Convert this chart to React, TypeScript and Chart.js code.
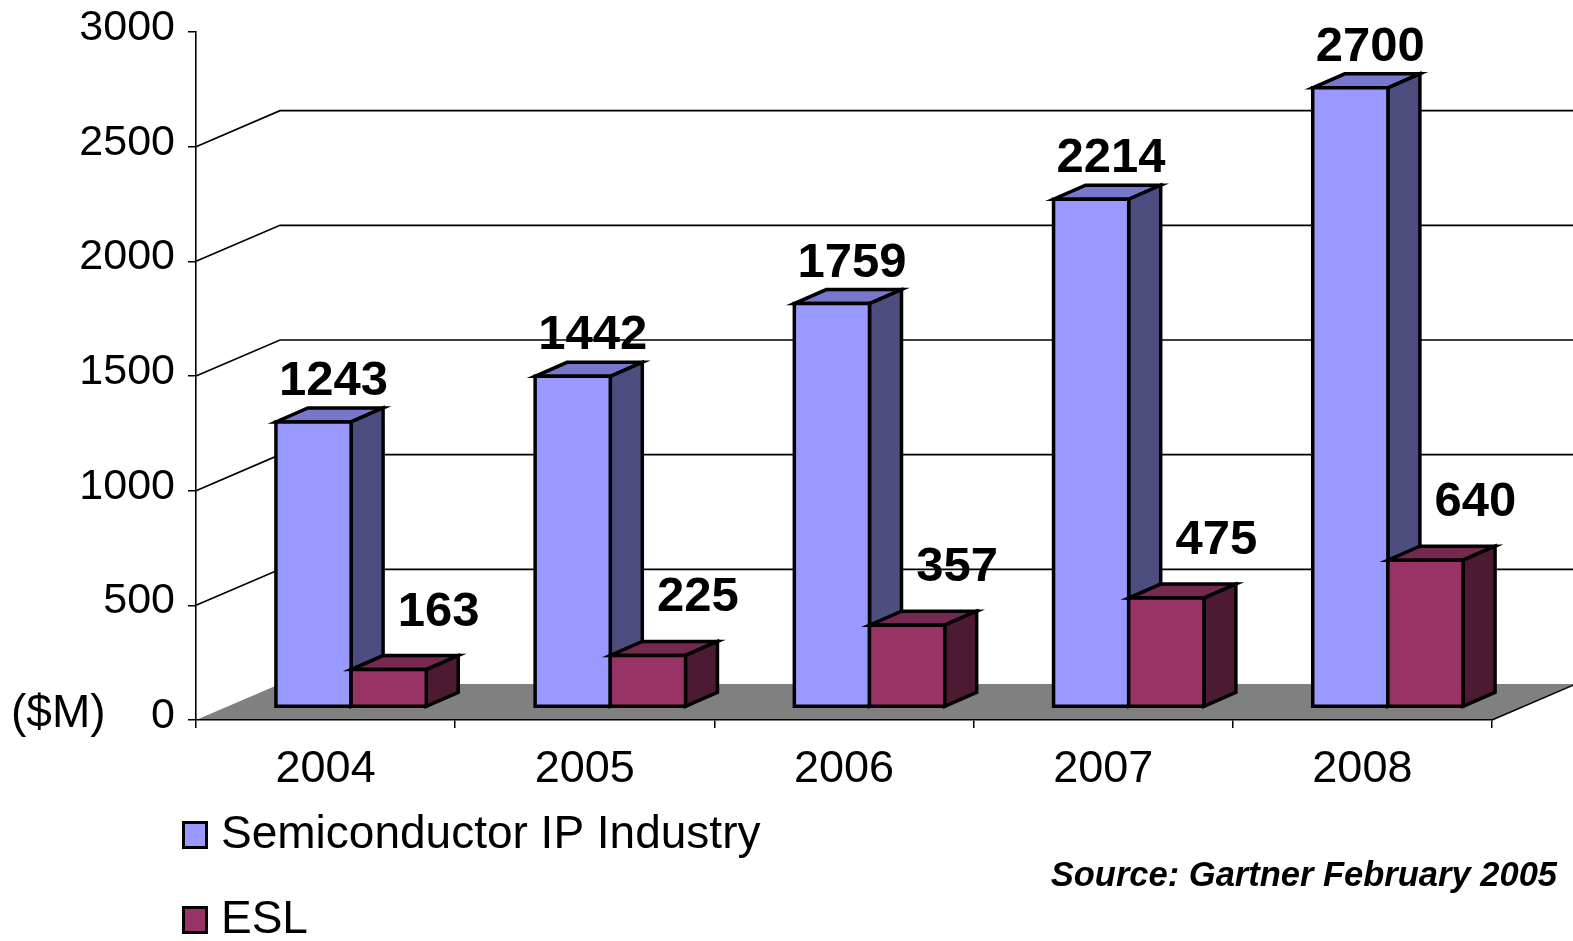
import React, { useEffect, useRef } from 'react';
import { Chart, registerables } from 'chart.js';

Chart.register(...registerables);

// ---------------- data ----------------
const years = ['2004', '2005', '2006', '2007', '2008'];
const ipIndustry = [1243, 1442, 1759, 2214, 2700];
const esl = [163, 225, 357, 475, 640];
const seriesNames = ['Semiconductor IP Industry', 'ESL'];
const yMin = 0;
const yMax = 3000;
const yStep = 500;
const unitLabel = '($M)';
const sourceText = 'Source: Gartner February 2005';

// ---------------- style ----------------
const FONT = '"Liberation Sans", Arial, Helvetica, sans-serif';
const FRONT = ['#9999FF', '#993366'];
const SIDE = ['#4D4D80', '#4D1A33'];
const TOP = ['#7777CC', '#752850'];
const FLOOR = '#808080';

const W = 1573;
const H = 941;
const WALL_DX = 84;
const WALL_DY = -36;
const BAR_DX = 25.5;
const BAR_DY = -13;
const DEPTH_DX = 32;
const DEPTH_DY = -14;
const LABEL_OFF = [
  { dx: 20, dy: 27 },
  { dx: 50, dy: 44 },
];

const threeDPlugin = {
  id: 'threeD',
  beforeDraw(chart: any) {
    const { ctx, chartArea } = chart;
    const { left, right, bottom } = chartArea;
    const ys = chart.scales.y;
    ctx.save();
    // floor
    ctx.fillStyle = FLOOR;
    ctx.beginPath();
    ctx.moveTo(left, bottom);
    ctx.lineTo(right, bottom);
    ctx.lineTo(right + WALL_DX, bottom + WALL_DY);
    ctx.lineTo(left + WALL_DX, bottom + WALL_DY);
    ctx.closePath();
    ctx.fill();
    ctx.strokeStyle = '#000';
    ctx.lineWidth = 1.4;
    ctx.beginPath();
    ctx.moveTo(right, bottom);
    ctx.lineTo(right + WALL_DX, bottom + WALL_DY);
    ctx.stroke();
    // side + back wall gridlines
    ctx.lineWidth = 1.7;
    ys.ticks.forEach((t: any) => {
      if (t.value === yMin || t.value === yMax) return;
      const y = ys.getPixelForValue(t.value);
      ctx.beginPath();
      ctx.moveTo(left, y);
      ctx.lineTo(left + WALL_DX, y + WALL_DY);
      ctx.lineTo(right + WALL_DX + 20, y + WALL_DY);
      ctx.stroke();
    });
    ctx.restore();
  },
  beforeDatasetsDraw(chart: any) {
    const { ctx } = chart;
    const nSets = chart.data.datasets.length;
    const nCats = chart.data.labels.length;
    ctx.save();
    ctx.lineJoin = 'miter';
    ctx.lineWidth = 3.5;
    ctx.strokeStyle = '#000';
    const poly = (pts: number[][], fill: string) => {
      ctx.beginPath();
      ctx.moveTo(pts[0][0], pts[0][1]);
      for (let k = 1; k < pts.length; k++) ctx.lineTo(pts[k][0], pts[k][1]);
      ctx.closePath();
      ctx.fillStyle = fill;
      ctx.fill();
      ctx.stroke();
    };
    const labels: any[] = [];
    for (let j = 0; j < nCats; j++) {
      for (let i = 0; i < nSets; i++) {
        const el = chart.getDatasetMeta(i).data[j];
        const p = el.getProps(['x', 'y', 'base', 'width'], true);
        const l = p.x - p.width / 2 + BAR_DX;
        const r = p.x + p.width / 2 + BAR_DX;
        const t = p.y + BAR_DY;
        const b = p.base + BAR_DY;
        poly(
          [
            [l, t],
            [r, t],
            [r + DEPTH_DX, t + DEPTH_DY],
            [l + DEPTH_DX, t + DEPTH_DY],
          ],
          TOP[i]
        );
        poly(
          [
            [r, t],
            [r + DEPTH_DX, t + DEPTH_DY],
            [r + DEPTH_DX, b + DEPTH_DY],
            [r, b],
          ],
          SIDE[i]
        );
        poly(
          [
            [l, t],
            [r, t],
            [r, b],
            [l, b],
          ],
          FRONT[i]
        );
        labels.push({
          text: String(chart.data.datasets[i].data[j]),
          x: (l + r) / 2 + LABEL_OFF[i].dx,
          y: t - LABEL_OFF[i].dy,
        });
      }
    }
    ctx.fillStyle = '#000';
    ctx.font = `bold 49px ${FONT}`;
    ctx.textAlign = 'center';
    ctx.textBaseline = 'alphabetic';
    labels.forEach((lb) => ctx.fillText(lb.text, lb.x, lb.y));
    ctx.restore();
    return false;
  },
  afterDraw(chart: any) {
    const { ctx } = chart;
    ctx.save();
    ctx.fillStyle = '#000';
    ctx.textBaseline = 'alphabetic';
    ctx.textAlign = 'left';
    ctx.font = `46px ${FONT}`;
    ctx.fillText(unitLabel, 11, 727);
    ctx.font = `46px ${FONT}`;
    const baselines = [848, 933];
    chart.data.datasets.forEach((ds: any, i: number) => {
      const yb = baselines[i];
      ctx.fillStyle = FRONT[i];
      ctx.fillRect(182, yb - 27, 26, 28);
      ctx.strokeStyle = '#000';
      ctx.lineWidth = 3;
      ctx.strokeRect(183.5, yb - 25.5, 23, 25);
      ctx.fillStyle = '#000';
      ctx.fillText(ds.label, 221, yb);
    });
    ctx.font = `italic bold 34.5px ${FONT}`;
    ctx.textAlign = 'right';
    ctx.fillText(sourceText, 1557, 886);
    ctx.restore();
  },
};

export default function App() {
  const ref = useRef<HTMLCanvasElement | null>(null);
  useEffect(() => {
    document.body.style.margin = '0';
    const canvas = ref.current;
    if (!canvas) return;
    const chart = new Chart(canvas, {
      type: 'bar',
      data: {
        labels: years,
        datasets: [
          { label: seriesNames[0], data: ipIndustry, backgroundColor: FRONT[0] },
          { label: seriesNames[1], data: esl, backgroundColor: FRONT[1] },
        ],
      },
      options: {
        animation: false,
        responsive: false,
        devicePixelRatio: 1,
        layout: { padding: { left: 0, right: W - 1492, top: 32, bottom: 0 } },
        datasets: { bar: { categoryPercentage: 0.58, barPercentage: 1 } } as any,
        plugins: { legend: { display: false }, tooltip: { enabled: false } },
        scales: {
          x: {
            offset: true,
            grid: {
              offset: true,
              drawOnChartArea: false,
              drawTicks: true,
              tickLength: 8,
              color: '#000',
              lineWidth: 1.5,
            },
            border: { display: true, color: '#000', width: 1.6 },
            ticks: { color: '#000', font: { family: FONT, size: 45 }, padding: 15 },
            afterFit: (s: any) => {
              s.height = H - 720;
              s.paddingLeft = 0;
              s.paddingRight = 0;
            },
          },
          y: {
            min: yMin,
            max: yMax,
            grid: {
              drawOnChartArea: false,
              drawTicks: true,
              tickLength: 8,
              color: '#000',
              lineWidth: 1.5,
            },
            border: { display: true, color: '#000', width: 1.6 },
            ticks: {
              stepSize: yStep,
              color: '#000',
              font: { family: FONT, size: 43 },
              padding: 13,
              labelOffset: -4,
              callback: (v: any) => String(v),
            },
            afterFit: (s: any) => {
              s.width = 196;
              s.paddingTop = 0;
              s.paddingBottom = 0;
            },
          },
        },
      },
      plugins: [threeDPlugin],
    });
    return () => chart.destroy();
  }, []);
  return (
    <div style={{ width: W, height: H }}>
      <canvas ref={ref} width={W} height={H} style={{ display: 'block' }} />
    </div>
  );
}
